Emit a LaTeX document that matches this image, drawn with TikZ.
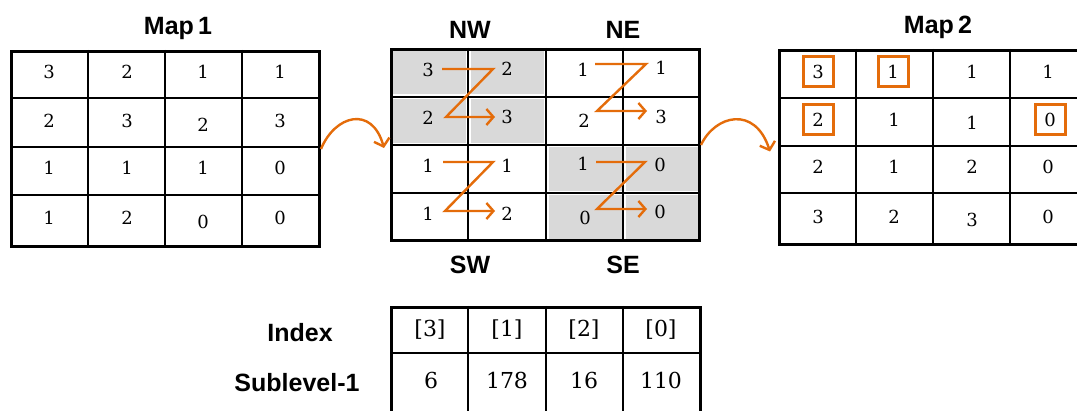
\documentclass[tikz,border=0pt]{standalone}
\usepackage{fontspec}
\setmainfont{DejaVu Serif}
\newfontfamily\labfont{Liberation Sans}
\usetikzlibrary{arrows.meta}
\definecolor{org}{HTML}{E46C0A}
\definecolor{cellgray}{HTML}{D9D9D9}
\begin{document}
\begin{tikzpicture}[x=1pt,y=-1pt,
  num/.style={font=\fontsize{18}{18}\selectfont, inner sep=0pt},
  bignum/.style={font=\fontsize{22}{22}\selectfont, inner sep=0pt},
  lbl/.style={font=\labfont\bfseries\fontsize{25}{25}\selectfont, inner sep=0pt},
  gridline/.style={line width=1.8pt},
  frame/.style={draw, line width=3pt, inner sep=0pt, anchor=north west},
  zpath/.style={draw=org, line width=2.4pt, line join=miter, -{Straight Barb[length=7pt,width=16pt,line width=2.4pt]}},
  curve/.style={draw=org, line width=2.4pt, -{Straight Barb[length=7pt,width=16pt,line width=2.4pt]}},
  hibox/.style={draw=org, line width=3pt, minimum width=30pt, minimum height=30pt}]
\useasboundingbox (0,0) rectangle (1077,411);
\fill[white] (0,0) rectangle (1077,411);

% ---------- Map 1 ----------
\node[lbl] (t1) at (178,28) {Map\,1};
\foreach \x in {88,165,242} \draw[gridline] (\x,50) -- (\x,245);
\foreach \y in {98,147,195} \draw[gridline] (10,\y) -- (318,\y);
\node[frame, minimum width=308pt, minimum height=195pt] (map1) at (10,50) {};
\node[num] (a00) at (49,72) {3};   \node[num] (a01) at (127,72) {2};
\node[num] (a02) at (203,72) {1};  \node[num] (a03) at (280,72) {1};
\node[num] (a10) at (49,121) {2};  \node[num] (a11) at (127,121) {3};
\node[num] (a12) at (203,125) {2}; \node[num] (a13) at (280,121) {3};
\node[num] (a20) at (49,168) {1};  \node[num] (a21) at (127,168) {1};
\node[num] (a22) at (203,168) {1}; \node[num] (a23) at (280,168) {0};
\node[num] (a30) at (49,218) {1};  \node[num] (a31) at (127,218) {2};
\node[num] (a32) at (203,222) {0}; \node[num] (a33) at (280,218) {0};

% ---------- middle (quadrants) ----------
\foreach \x/\y in {390/48,468/48,390/97,468/97,546/145,623/145,546/193,623/193}
  \fill[cellgray] (\x+2.5,\y+2.5) rectangle (\x+75.5,\y+46);
\foreach \x in {468,546,623} \draw[gridline] (\x,48) -- (\x,239);
\foreach \y in {97,145,193} \draw[gridline] (390,\y) -- (698,\y);
\node[frame, minimum width=308pt, minimum height=191pt] (mid) at (390,48) {};
\node[lbl] (nw) at (470,30) {NW};
\node[lbl] (ne) at (623,30) {NE};
\node[lbl] (sw) at (470,265) {SW};
\node[lbl] (se) at (623,265) {SE};

\node[num] (b00) at (428,70) {3};  \node[num] (b01) at (507,69) {2};
\node[num] (b10) at (428,118) {2}; \node[num] (b11) at (507,117) {3};
\node[num] (b02) at (583,70) {1};  \node[num] (b03) at (661,68) {1};
\node[num] (b12) at (584,121) {2}; \node[num] (b13) at (661,117) {3};
\node[num] (b20) at (428,166) {1}; \node[num] (b21) at (507,166) {1};
\node[num] (b30) at (428,214) {1}; \node[num] (b31) at (507,214) {2};
\node[num] (b22) at (583,164) {1}; \node[num] (b23) at (660,165) {0};
\node[num] (b32) at (585,218) {0}; \node[num] (b33) at (660,212) {0};

\coordinate (z1a) at (442,69);  \coordinate (z1b) at (493,69);
\coordinate (z1c) at (446,117); \coordinate (z1d) at (495,117);
\draw[zpath] (z1a) -- (z1b) -- (z1c) -- (z1d);
\coordinate (z2a) at (595,64);  \coordinate (z2b) at (646,64);
\coordinate (z2c) at (597,111); \coordinate (z2d) at (647,111);
\draw[zpath] (z2a) -- (z2b) -- (z2c) -- (z2d);
\coordinate (z3a) at (443,162); \coordinate (z3b) at (493,162);
\coordinate (z3c) at (445,211); \coordinate (z3d) at (495,211);
\draw[zpath] (z3a) -- (z3b) -- (z3c) -- (z3d);
\coordinate (z4a) at (596,162); \coordinate (z4b) at (645,162);
\coordinate (z4c) at (597,209); \coordinate (z4d) at (647,209);
\draw[zpath] (z4a) -- (z4b) -- (z4c) -- (z4d);

% ---------- Map 2 ----------
\node[lbl] (t2) at (938,27) {Map\,2};
\foreach \x in {856,933,1010} \draw[gridline] (\x,49) -- (\x,243);
\foreach \y in {98,146,193} \draw[gridline] (778,\y) -- (1092,\y);
\node[frame, minimum width=310pt, minimum height=194pt] (map2) at (778,49) {};
\node[num,hibox] (c00) at (818,72) {3};  \node[num,hibox] (c01) at (893,72) {1};
\node[num] (c02) at (972,72) {1};        \node[num] (c03) at (1048,72) {1};
\node[num,hibox] (c10) at (818,120) {2}; \node[num] (c11) at (894,120) {1};
\node[num] (c12) at (972,123) {1};       \node[num,hibox] (c13) at (1050,120) {0};
\node[num] (c20) at (818,167) {2};       \node[num] (c21) at (894,167) {1};
\node[num] (c22) at (972,167) {2};       \node[num] (c23) at (1048,167) {0};
\node[num] (c30) at (818,217) {3};       \node[num] (c31) at (894,217) {2};
\node[num] (c32) at (972,220) {3};       \node[num] (c33) at (1048,217) {0};

% ---------- curved arrows ----------
\draw[curve] (map1.east) .. controls (335,115) and (372,105) .. ([xshift=-6pt,yshift=-3pt]mid.west);
\draw[curve] (mid.east) .. controls (715,115) and (755,105) .. ([xshift=-8pt,yshift=-4pt]map2.west);

% ---------- bottom table ----------
\node[lbl] (idx) at (300,333) {Index};
\node[lbl] (sub) at (297,383) {Sublevel-1};
\foreach \x in {468,546,623} \draw[gridline] (\x,306) -- (\x,430);
\draw[gridline] (390,353) -- (699,353);
\node[frame, minimum width=309pt, minimum height=130pt] (tab) at (390,306) {};
\node[bignum] (d0) at (430,330) {[3]};
\node[bignum] (d1) at (507,330) {[1]};
\node[bignum] (d2) at (584,330) {[2]};
\node[bignum] (d3) at (661,330) {[0]};
\node[bignum] (e0) at (431,380) {6};
\node[bignum] (e1) at (507,380) {178};
\node[bignum] (e2) at (584,380) {16};
\node[bignum] (e3) at (661,380) {110};
\end{tikzpicture}
\end{document}
